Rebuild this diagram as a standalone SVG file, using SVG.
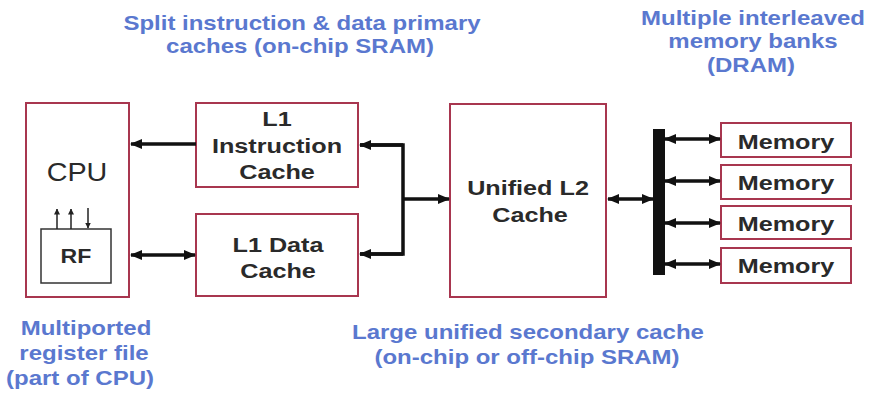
<svg xmlns="http://www.w3.org/2000/svg" width="875" height="398" viewBox="0 0 875 398">
  <defs>
    <marker id="ah" viewBox="0 0 12 10" refX="11" refY="5" markerWidth="12" markerHeight="10" markerUnits="userSpaceOnUse" orient="auto-start-reverse">
      <path d="M0,0 L12,5 L0,10 Z" fill="#111"/>
    </marker>
    <marker id="ahs" viewBox="0 0 6 6" refX="5.5" refY="3" markerWidth="6" markerHeight="6" markerUnits="userSpaceOnUse" orient="auto">
      <path d="M0,0 L6,3 L0,6 Z" fill="#222"/>
    </marker>
    <style>
      .box { fill: #ffffff; stroke: #a8364f; stroke-width: 2; }
      .rf { fill: #ffffff; stroke: #333; stroke-width: 1.5; }
      .lbl { font-family: "Liberation Sans", Arial, sans-serif; font-weight: bold; font-size: 21px; fill: #2a2a2a; text-anchor: middle; }
      .cpu { font-family: "Liberation Sans", Arial, sans-serif; font-size: 25px; fill: #2a2a2a; text-anchor: middle; }
      .note { font-family: "Liberation Sans", Arial, sans-serif; font-weight: bold; font-size: 20px; fill: #5a78cf; text-anchor: middle; }
      .wire { stroke: #111; stroke-width: 3.5; fill: none; }
      .thin { stroke: #222; stroke-width: 1.5; fill: none; }
    </style>
  </defs>
  <rect width="875" height="398" fill="#ffffff"/>

  <!-- annotations -->
  <g id="notes">
    <text class="note" transform="translate(302,30) scale(1.2,1)">Split instruction &amp; data primary</text>
    <text class="note" transform="translate(300,53) scale(1.2,1)">caches (on-chip SRAM)</text>
    <text class="note" transform="translate(753,25) scale(1.2,1)">Multiple interleaved</text>
    <text class="note" transform="translate(753,48) scale(1.2,1)">memory banks</text>
    <text class="note" transform="translate(751,72) scale(1.2,1)">(DRAM)</text>
    <text class="note" transform="translate(86,335) scale(1.2,1)">Multiported</text>
    <text class="note" transform="translate(84,360) scale(1.2,1)">register file</text>
    <text class="note" transform="translate(80,385) scale(1.2,1)">(part of CPU)</text>
    <text class="note" transform="translate(528,339) scale(1.2,1)">Large unified secondary cache</text>
    <text class="note" transform="translate(527,364) scale(1.2,1)">(on-chip or off-chip SRAM)</text>
  </g>

  <!-- CPU with register file -->
  <g id="cpu">
    <rect class="box" x="26" y="103" width="103" height="194"/>
    <text class="cpu" transform="translate(77,181) scale(1.15,1)">CPU</text>
    <rect class="rf" x="41" y="229" width="70" height="54"/>
    <text class="lbl" transform="translate(76,263) scale(1.1,1)">RF</text>
    <line class="thin" x1="57" y1="229" x2="57" y2="209" marker-end="url(#ahs)"/>
    <line class="thin" x1="71" y1="229" x2="71" y2="209" marker-end="url(#ahs)"/>
    <line class="thin" x1="88" y1="208" x2="88" y2="228" marker-end="url(#ahs)"/>
  </g>

  <!-- L1 instruction cache -->
  <g id="l1i">
    <rect class="box" x="196" y="103" width="162" height="84"/>
    <text class="lbl" transform="translate(277,126) scale(1.2,1)">L1</text>
    <text class="lbl" transform="translate(277,153) scale(1.2,1)">Instruction</text>
    <text class="lbl" transform="translate(277,179) scale(1.2,1)">Cache</text>
  </g>

  <!-- L1 data cache -->
  <g id="l1d">
    <rect class="box" x="196" y="214" width="162" height="82"/>
    <text class="lbl" transform="translate(278,252) scale(1.2,1)">L1 Data</text>
    <text class="lbl" transform="translate(278,278) scale(1.2,1)">Cache</text>
  </g>

  <!-- unified L2 -->
  <g id="l2">
    <rect class="box" x="450" y="104" width="156" height="193"/>
    <text class="lbl" transform="translate(528,195) scale(1.2,1)">Unified L2</text>
    <text class="lbl" transform="translate(530,222) scale(1.2,1)">Cache</text>
  </g>

  <!-- memory banks -->
  <g id="mem1">
    <rect class="box" x="721" y="123" width="130" height="34"/>
    <text class="lbl" transform="translate(786,149) scale(1.2,1)">Memory</text>
  </g>
  <g id="mem2">
    <rect class="box" x="721" y="165" width="130" height="34"/>
    <text class="lbl" transform="translate(786,190) scale(1.2,1)">Memory</text>
  </g>
  <g id="mem3">
    <rect class="box" x="721" y="206" width="130" height="33"/>
    <text class="lbl" transform="translate(786,231) scale(1.2,1)">Memory</text>
  </g>
  <g id="mem4">
    <rect class="box" x="721" y="248" width="130" height="35"/>
    <text class="lbl" transform="translate(786,273) scale(1.2,1)">Memory</text>
  </g>

  <!-- connectors -->
  <g id="connectors">
    <line class="wire" x1="196" y1="144" x2="131" y2="144" marker-end="url(#ah)"/>
    <line class="wire" x1="131" y1="255" x2="195" y2="255" marker-start="url(#ah)" marker-end="url(#ah)"/>
    <polyline class="wire" points="360,145 403,145 403,254 360,254"/>
    <line class="wire" x1="403" y1="145" x2="360" y2="145" marker-end="url(#ah)"/>
    <line class="wire" x1="403" y1="254" x2="360" y2="254" marker-end="url(#ah)"/>
    <line class="wire" x1="403" y1="199" x2="449" y2="199" marker-end="url(#ah)"/>
    <line class="wire" x1="608" y1="199" x2="653" y2="199" marker-start="url(#ah)" marker-end="url(#ah)"/>
    <rect x="653" y="129" width="12" height="146" fill="#111"/>
    <line class="wire" x1="665" y1="139" x2="720" y2="139" marker-start="url(#ah)" marker-end="url(#ah)"/>
    <line class="wire" x1="665" y1="181" x2="720" y2="181" marker-start="url(#ah)" marker-end="url(#ah)"/>
    <line class="wire" x1="665" y1="223" x2="720" y2="223" marker-start="url(#ah)" marker-end="url(#ah)"/>
    <line class="wire" x1="665" y1="264" x2="720" y2="264" marker-start="url(#ah)" marker-end="url(#ah)"/>
  </g>
</svg>
